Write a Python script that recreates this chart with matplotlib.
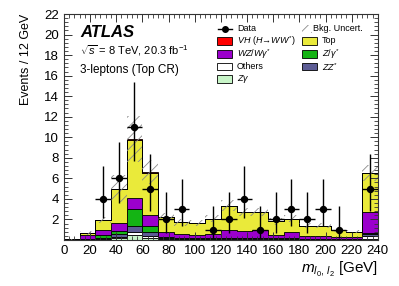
import numpy as np
import matplotlib
matplotlib.use("Agg")
import matplotlib.pyplot as plt
from matplotlib.patches import Rectangle
from matplotlib.lines import Line2D

plt.rcParams['font.family'] = ['Liberation Sans', 'DejaVu Sans']
plt.rcParams['hatch.linewidth'] = 0.6
plt.rcParams['mathtext.fontset'] = 'custom'
plt.rcParams['mathtext.rm'] = 'Liberation Sans'
plt.rcParams['mathtext.it'] = 'Liberation Sans:italic'

# bin edges, 12 GeV each
edges = np.arange(0, 241, 12)

# stacked backgrounds (bottom -> top)
zgamma = [0.00, 0.01, 0.03, 0.15, 0.45, 0.15, 0.03, 0.02, 0.02, 0.02, 0.02, 0.02, 0.02, 0.02, 0.02, 0.02, 0.02, 0.01, 0.01, 0.05]
others = [0.00, 0.02, 0.05, 0.15, 0.35, 0.25, 0.08, 0.06, 0.05, 0.06, 0.08, 0.08, 0.08, 0.06, 0.06, 0.05, 0.05, 0.04, 0.04, 0.35]
zz = [0.00, 0.02, 0.10, 0.25, 0.53, 0.35, 0.05, 0.05, 0.04, 0.04, 0.05, 0.05, 0.05, 0.04, 0.04, 0.03, 0.03, 0.03, 0.03, 0.20]
zgstar = [0.00, 0.07, 0.27, 0.33, 1.67, 0.64, 0.10, 0.07, 0.04, 0.03, 0.05, 0.05, 0.05, 0.03, 0.03, 0.02, 0.02, 0.02, 0.02, 0.10]
wz = [0.03, 0.35, 0.49, 0.74, 1.12, 1.01, 0.49, 0.35, 0.30, 0.40, 0.77, 0.70, 0.75, 0.35, 0.60, 0.28, 0.28, 0.20, 0.20, 2.00]
top = [0.02, 0.21, 1.01, 3.38, 5.63, 4.15, 1.45, 1.15, 1.20, 1.50, 2.38, 1.80, 1.75, 1.30, 1.30, 1.00, 1.00, 0.67, 0.50, 3.80]
vh = [0.00, 0.00, 0.00, 0.00, 0.08, 0.05, 0.00, 0.00, 0.00, 0.00, 0.00, 0.00, 0.00, 0.00, 0.00, 0.00, 0.00, 0.00, 0.00, 0.00]
bkg_unc = [0.02, 0.15, 0.30, 1.30, 2.20, 1.20, 0.40, 0.30, 0.30, 0.35, 0.55, 0.40, 0.40, 0.30, 0.35, 0.25, 0.25, 0.20, 0.15, 0.80]

# data with Poisson errors
data = [0, 0, 4, 6, 11, 5, 2, 3, 0, 1, 2, 4, 1, 2, 3, 2, 3, 1, 0, 5]
err_lo = [0, 0, 1.91, 2.38, 3.30, 2.16, 1.29, 1.63, 0, 0.83, 1.29, 1.91, 0.83, 1.29, 1.63, 1.29, 1.63, 0.83, 0, 2.16]
err_hi = [0, 0, 3.16, 3.58, 4.42, 3.38, 2.64, 2.92, 0, 2.30, 2.64, 3.16, 2.30, 2.64, 2.92, 2.64, 2.92, 2.30, 0, 3.38]

colors = {
    'zgamma': '#c8f5c8', 'others': '#ffffff', 'zz': '#5c5c94', 'zgstar': '#14b414',
    'wz': '#9b00cc', 'top': '#eaea3a', 'vh': '#ff0000',
}
stack = [('zgamma', zgamma), ('others', others), ('zz', zz), ('zgstar', zgstar),
         ('wz', wz), ('top', top), ('vh', vh)]

fig = plt.figure(figsize=(3.99, 2.86), dpi=100)
ax = fig.add_axes([0.160, 0.161, 0.787, 0.790])

bottom = np.zeros(len(edges) - 1)
for key, vals in stack:
    vals = np.array(vals)
    ax.stairs(bottom + vals, edges, baseline=bottom, fill=True,
              facecolor=colors[key], edgecolor='black', linewidth=0.6)
    bottom = bottom + vals
total = bottom

unc = np.array(bkg_unc)
ax.stairs(total + unc, edges, baseline=total - unc, fill=True,
          facecolor='none', edgecolor='#8a8a8a', hatch='///', linewidth=0)

centers = 0.5 * (edges[:-1] + edges[1:])
data = np.array(data)
mask = data > 0
ax.errorbar(centers[mask], data[mask], xerr=6,
            yerr=[np.array(err_lo)[mask], np.array(err_hi)[mask]],
            fmt='o', color='black', ms=4.3, elinewidth=1.0, capsize=0, zorder=5)

ax.set_xlim(0, 240)
ax.set_ylim(0, 22)
ax.set_xticks(np.arange(0, 241, 20))
ax.set_xticks(np.arange(0, 241, 4), minor=True)
ax.set_yticks(np.arange(2, 23, 2))
ax.set_yticks(np.arange(0, 22.01, 0.4), minor=True)
ax.tick_params(which='both', direction='in', top=True, right=True, labelsize=9.5,
               color='#333333')
ax.tick_params(which='major', length=6, width=0.7)
ax.tick_params(which='minor', length=3, width=0.6)
for s in ax.spines.values():
    s.set_linewidth(0.8)
    s.set_color('#333333')

ax.set_ylabel('Events / 12 GeV', fontsize=9, loc='top', labelpad=9)
ax.set_xlabel(r'$m_{l_0,\,l_2}$ [GeV]', fontsize=11, loc='right', labelpad=2)

ax.text(0.051, 0.916, 'ATLAS', transform=ax.transAxes, fontsize=12,
        fontweight='bold', fontstyle='italic', va='center')
ax.text(0.051, 0.836, r'$\sqrt{s}$ = 8 TeV, 20.3 fb$^{-1}$', transform=ax.transAxes,
        fontsize=8, va='center')
ax.text(0.051, 0.754, '3-leptons (Top CR)', transform=ax.transAxes, fontsize=8.5,
        va='center')

# legend drawn by hand, two columns
rows = [0.934, 0.881, 0.824, 0.767, 0.711]
bw, bh = 0.048, 0.034
c1_box, c1_txt = 0.487, 0.551
c2_box, c2_txt = 0.758, 0.818
lfs = 6.5

def leg_box(x, y, key, label):
    ax.add_patch(Rectangle((x, y - bh / 2), bw, bh, transform=ax.transAxes,
                           facecolor=colors[key], edgecolor='black', linewidth=0.6,
                           clip_on=False))
    ax.text(x + (c1_txt - c1_box), y, label, transform=ax.transAxes, fontsize=lfs,
            va='center')

# data entry
ax.add_line(Line2D([c1_box + 0.005, c1_box + bw], [rows[0], rows[0]], transform=ax.transAxes,
                   color='black', lw=1.0))
ax.add_line(Line2D([c1_box + 0.005 + (bw - 0.005) / 2], [rows[0]], transform=ax.transAxes,
                   color='black', marker='o', ms=4))
ax.text(c1_txt, rows[0], 'Data', transform=ax.transAxes, fontsize=lfs, va='center')
leg_box(c1_box, rows[1], 'vh', r'$VH$ $(H\!\rightarrow\!WW^{*})$')
leg_box(c1_box, rows[2], 'wz', r'$WZ/W\gamma^{*}$')
leg_box(c1_box, rows[3], 'others', 'Others')
leg_box(c1_box, rows[4], 'zgamma', r'$Z\gamma$')

# uncertainty entry
ax.add_patch(Rectangle((c2_box, rows[0] - bh / 2), 0.032, bh, transform=ax.transAxes,
                       facecolor='none', edgecolor='#8a8a8a', hatch='///', linewidth=0,
                       clip_on=False))
ax.text(0.792, rows[0], 'Bkg. Uncert.', transform=ax.transAxes, fontsize=lfs, va='center')
leg_box(c2_box, rows[1], 'top', 'Top')
leg_box(c2_box, rows[2], 'zgstar', r'$Z/\gamma^{*}$')
leg_box(c2_box, rows[3], 'zz', r'$ZZ^{*}$')

fig.savefig('out.png', dpi=100)
